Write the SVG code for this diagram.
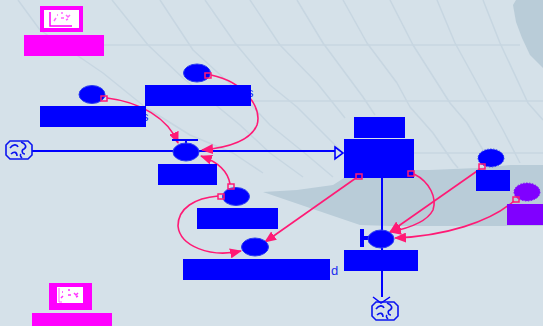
<svg xmlns="http://www.w3.org/2000/svg" width="543" height="326" viewBox="0 0 543 326">
<style>
.grid{fill:none;stroke:#c7d6e1;stroke-width:1.5;stroke-linejoin:round}
.land{fill:#b9ccd8}
.r{fill:#0000ff}
.n{fill:#0000ff;stroke:#2a3cf0;stroke-width:1}
.f{fill:none;stroke:#0000ff;stroke-width:2}
.c{fill:none;stroke:#ff1a75;stroke-width:1.6}
.h{fill:none;stroke:#ff1a75;stroke-width:1.5}
.cl{fill:none;stroke:#0a14f0;stroke-width:1.6}
.m{fill:#ff00ff}
.w{fill:#ffffff}
.t{font-family:"Liberation Sans",Arial,sans-serif;font-size:13px;fill:#1a2cf0}
</style>
<defs>
<marker id="ah" markerWidth="12" markerHeight="10" refX="11" refY="5" orient="auto" markerUnits="userSpaceOnUse"><path d="M0,0L12,5L0,10Z" fill="#ff1a75"/></marker>
<g id="cloud"><path class="cl" d="M-9,-9H9L13,-5V5L9,9H-9L-13,5V-5Z"/><path class="cl" d="M-9,-2C-6,-6 -2,-6 -1,-3M2,-8C7,-6 8,-3 5,-1C2,0 3,4 6,4M-8,4C-5,1 -2,2 -2,6M3,8C1,6 1,5 2,4"/></g>
<g id="chart"><path d="M0,0V14H22" fill="none" stroke="#ff00ff" stroke-width="1.5"/><path d="M4,9l2,-3M7,3h1M11,6h3M11,1h2M16,3l2,2l2,-2M16,8l2,-1" fill="none" stroke="#ff66ff" stroke-width="1.5"/></g>
</defs>
<rect width="543" height="326" fill="#d5e1e9"/>
<g id="map">
<path class="land" d="M263,192L297,190L333,185L344,178L410,170L430,170L477,168L510,165L543,165V226H390L360,225L307,207Z"/>
<path class="land" d="M516,0H543V68L530,55L522,38L516,22L513,5Z"/>
<polyline class="grid" points="18,0 40,30 103,73 145,107 190,135 233,153 263,173"/>
<polyline class="grid" points="112,0 148,45 183,78 240,125 270,153 303,177"/>
<polyline class="grid" points="160,0 193,50 240,93 270,125 307,155 333,177"/>
<polyline class="grid" points="205,0 235,43 270,85 297,107 340,150"/>
<polyline class="grid" points="250,0 280,45 317,83 345,118"/>
<polyline class="grid" points="297,0 323,43 363,97 375,115"/>
<polyline class="grid" points="343,0 367,43 397,83 410,107 433,133 453,162 458,168"/>
<polyline class="grid" points="390,0 413,45 450,103 467,123 483,150 490,167"/>
<polyline class="grid" points="437,0 455,43 488,103 503,130 520,163"/>
<polyline class="grid" points="483,0 500,43 528,103 543,120"/>
<path class="grid" d="M100,45H520"/>
<path class="grid" d="M145,101H543"/>
<path class="grid" d="M414,153H543"/>
</g>
<g id="connectors">
<path class="f" d="M32,151H335"/>
<path d="M335,147L343,153L335,159Z" fill="none" stroke="#0000ff" stroke-width="1.6"/>
<path class="f" d="M382,178V297"/>
<path d="M373,297L381,303L390,297" fill="none" stroke="#0000ff" stroke-width="1.5"/>
<path class="c" marker-end="url(#ah)" d="M107,98C140,102 168,118 178,143"/>
<path class="c" marker-end="url(#ah)" d="M211,75C245,82 262,108 257,125C250,142 225,148 202,150"/>
<path class="c" marker-end="url(#ah)" d="M230,184C228,172 218,162 201,156"/>
<path class="c" marker-end="url(#ah)" d="M218,196C195,198 178,208 178,226C180,246 210,258 241,251"/>
<path class="c" marker-end="url(#ah)" d="M356,178L265,242"/>
<path class="c" marker-end="url(#ah)" d="M414,174C430,182 437,198 433,210C427,222 410,228 390,232"/>
<path class="c" marker-end="url(#ah)" d="M480,169L390,232"/>
<path class="c" marker-end="url(#ah)" d="M514,201C490,222 445,236 395,238"/>
</g>
<g id="chart-top"><rect class="m" x="40" y="6" width="43" height="26"/><rect class="w" x="44" y="10" width="35" height="18"/><use href="#chart" x="50" y="12"/><rect class="m" x="24" y="35" width="80" height="21"/></g>
<g id="chart-bottom"><rect class="m" x="49" y="283" width="43" height="27"/><rect class="w" x="57" y="287" width="26" height="16"/><path d="M59,288V302H62" fill="none" stroke="#ff66ff" stroke-width="1"/><path d="M61,298l2,-2M62,292h1M68,295h3M68,290h2M74,293l2,2l2,-2M76,297l2,-1" fill="none" stroke="#ff33ff" stroke-width="1.5"/><rect class="m" x="32" y="313" width="80" height="13"/></g>
<g id="source"><use href="#cloud" x="19" y="150"/></g>
<g id="sink"><use href="#cloud" x="385" y="311"/></g>
<g id="aux1"><ellipse class="n" cx="92" cy="94.5" rx="13" ry="9"/><text class="t" x="142" y="121">s</text><rect class="r" x="40" y="106" width="106" height="21"/></g>
<g id="aux2"><ellipse class="n" cx="197" cy="73" rx="13.5" ry="9"/><text class="t" x="247" y="97">s</text><rect class="r" x="145" y="85" width="106" height="21"/></g>
<g id="flow1"><path d="M172,140H198M186,140V152" stroke="#0000ff" stroke-width="2" fill="none"/><ellipse class="n" cx="186" cy="152" rx="13" ry="9"/><rect class="r" x="158" y="164" width="59" height="21"/></g>
<g id="aux3"><ellipse class="n" cx="236" cy="196.5" rx="13.5" ry="9"/><rect class="r" x="197" y="208" width="81" height="21"/></g>
<g id="aux4"><ellipse class="n" cx="255" cy="247" rx="13.5" ry="9"/><text class="t" x="331" y="275">d</text><rect class="r" x="183" y="259" width="147" height="21"/></g>
<g id="stock"><rect class="r" x="354" y="117" width="51" height="21"/><rect class="r" x="344" y="139" width="70" height="39"/></g>
<g id="flow2"><path d="M362,229V247M362,238H381" stroke="#0000ff" stroke-width="4" fill="none"/><ellipse class="n" cx="381" cy="239" rx="13" ry="9"/><rect class="r" x="344" y="250" width="74" height="21"/></g>
<g id="aux5"><ellipse cx="491" cy="158" rx="13" ry="9" fill="#0000ff" stroke="#2a3cf0" stroke-dasharray="1.5 1.5"/><rect class="r" x="476" y="170" width="34" height="21"/></g>
<g id="aux6"><ellipse cx="527" cy="192" rx="13" ry="9" fill="#8000ff" stroke="#8000ff" stroke-dasharray="1.5 1.5"/><rect x="507" y="204" width="36" height="21" fill="#8000ff"/></g>
<g id="handles">
<rect class="h" x="101" y="96" width="6" height="5"/>
<rect class="h" x="205" y="73" width="6" height="5"/>
<rect class="h" x="228" y="184" width="6" height="5"/>
<rect class="h" x="218" y="194" width="6" height="5"/>
<rect class="h" x="356" y="174" width="6" height="5"/>
<rect class="h" x="408" y="171" width="6" height="5"/>
<rect class="h" x="479" y="164" width="6" height="5"/>
<rect class="h" x="513" y="197" width="6" height="5"/>
</g>
</svg>
